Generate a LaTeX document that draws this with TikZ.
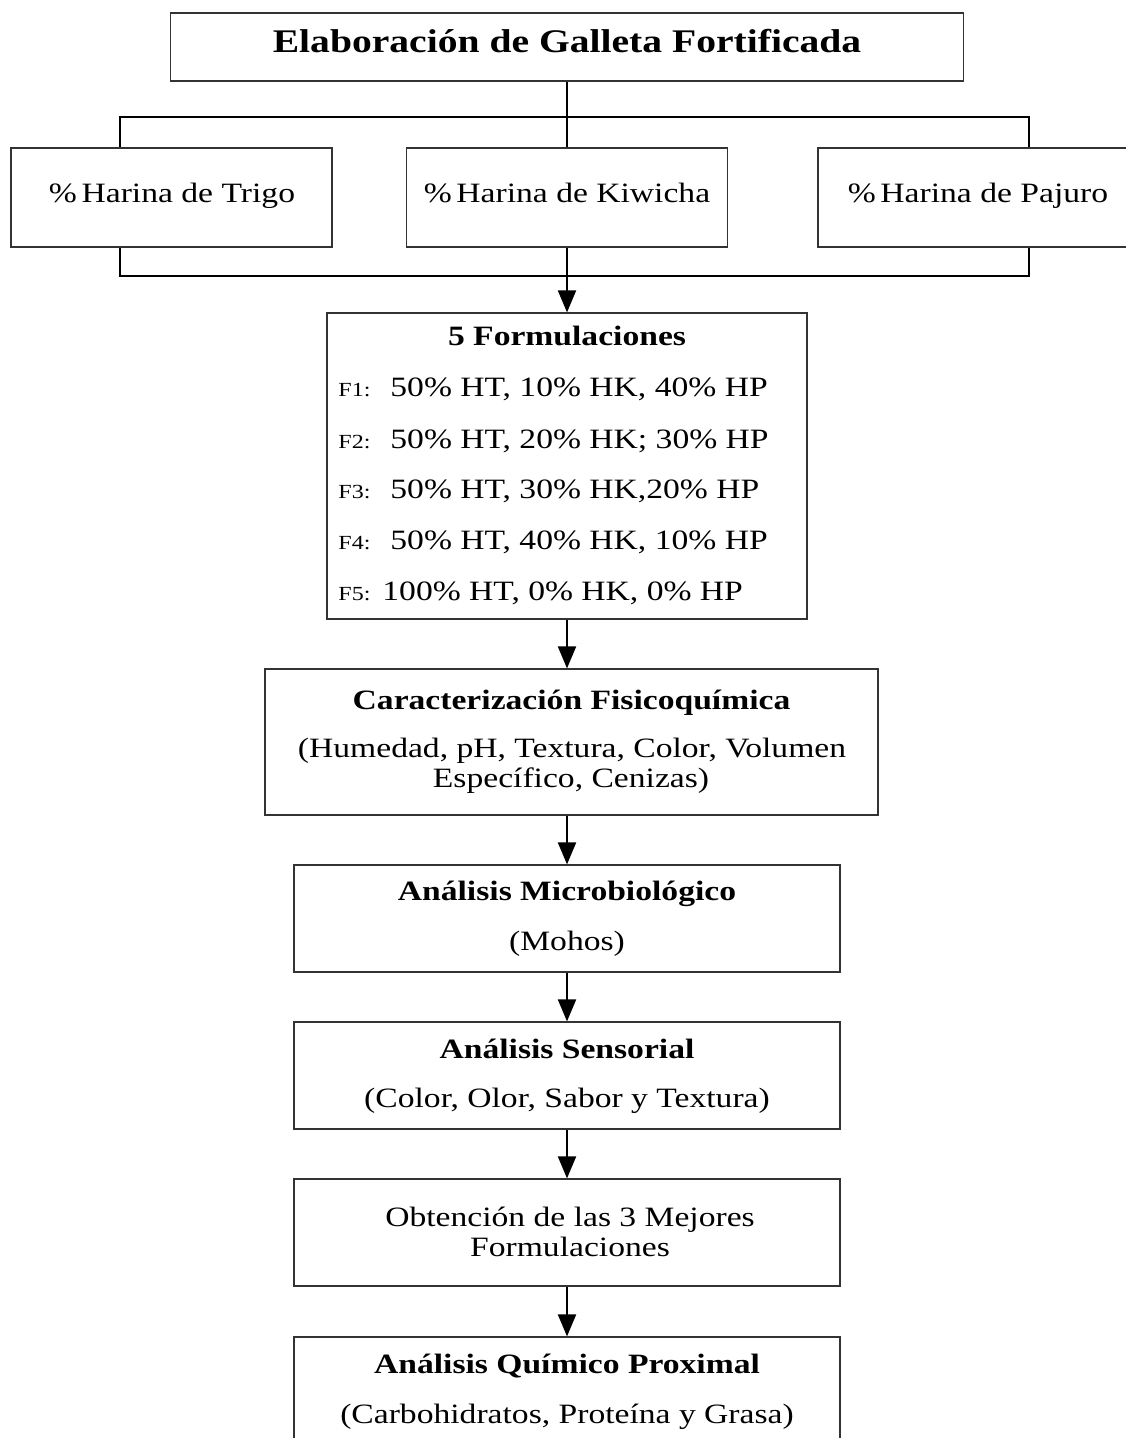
\documentclass[tikz,border=0pt]{standalone}
\usepackage{fontspec}
\setmainfont{Liberation Serif}[FakeStretch=1.2]
\usetikzlibrary{arrows.meta}
\begin{document}
\begin{tikzpicture}[x=0.5pt,y=-0.5pt,
  box/.style={draw=black!80, line width=0.6pt, inner sep=0pt, rectangle},
  conn/.style={line width=1pt, black},
  arr/.style={conn, -{Triangle[length=11pt,width=9pt]}},
  tx/.style={inner sep=0pt, anchor=base, font=\fontsize{14}{16}\selectfont},
  txb/.style={inner sep=0pt, anchor=base, font=\fontsize{14}{16}\selectfont\bfseries},
  fl/.style={inner sep=0pt, anchor=base west, font=\fontsize{14}{16}\selectfont},
]
\useasboundingbox (0,0) rectangle (1125,1438);
\fill[white] (0,0) rectangle (1125,1438);

% boxes
\node[box, minimum width=396.5pt, minimum height=34pt] (top) at (567,47) {};
\node[box, minimum width=160.5pt, minimum height=49.5pt] (trig) at (171.5,197.5) {};
\node[box, minimum width=160.5pt, minimum height=49.5pt] (kiw) at (567,197.5) {};
\node[box, minimum width=158.5pt, minimum height=49.5pt] (paj) at (976.5,197.5) {};
\node[box, minimum width=240pt, minimum height=153pt] (form) at (567,466) {};
\node[box, minimum width=306.5pt, minimum height=73pt] (car) at (571.5,742) {};
\node[box, minimum width=273pt, minimum height=53.5pt] (mic) at (567,918.5) {};
\node[box, minimum width=273pt, minimum height=53.5pt] (sen) at (567,1075.5) {};
\node[box, minimum width=273pt, minimum height=53.5pt] (obt) at (567,1232.5) {};
\node[box, minimum width=273pt, minimum height=56.5pt] (pro) at (567,1393.5) {};

% texts
\node[inner sep=0pt, anchor=base, font=\fontsize{16.5}{18}\selectfont\bfseries] (ttop) at (567,53) {Elaboración de Galleta Fortificada};
\node[tx] (ttrig) at (172,203) {\%\,Harina de Trigo};
\node[tx] (tkiw) at (567,203) {\%\,Harina de Kiwicha};
\node[tx] (tpaj) at (978,203) {\%\,Harina de Pajuro};

\node[txb] (tform) at (567,346) {5 Formulaciones};
\node[fl] (f1) at (338,397) {{\fontsize{10}{12}\selectfont F1:}\hspace{10pt}50\% HT, 10\% HK, 40\% HP};
\node[fl] (f2) at (338,448) {{\fontsize{10}{12}\selectfont F2:}\hspace{10pt}50\% HT, 20\% HK; 30\% HP};
\node[fl] (f3) at (338,498) {{\fontsize{10}{12}\selectfont F3:}\hspace{10pt}50\% HT, 30\% HK,20\% HP};
\node[fl] (f4) at (338,549) {{\fontsize{10}{12}\selectfont F4:}\hspace{10pt}50\% HT, 40\% HK, 10\% HP};
\node[fl] (f5) at (338,600) {{\fontsize{10}{12}\selectfont F5:}\hspace{6pt}100\% HT, 0\% HK, 0\% HP};

\node[txb] (tcar) at (571.5,709) {Caracterización Fisicoquímica};
\node[tx] (tcar1) at (572,757) {(Humedad, pH, Textura, Color, Volumen};
\node[tx] (tcar2) at (571,787) {Específico, Cenizas)};

\node[txb] (tmic) at (567,900) {Análisis Microbiológico};
\node[tx] (tmic1) at (567,950) {(Mohos)};

\node[txb] (tsen) at (567,1058) {Análisis Sensorial};
\node[tx] (tsen1) at (567,1107) {(Color, Olor, Sabor y Textura)};

\node[tx] (tobt1) at (570,1226) {Obtención de las 3 Mejores};
\node[tx] (tobt2) at (570,1256) {Formulaciones};

\node[txb] (tpro) at (567,1373) {Análisis Químico Proximal};
\node[tx] (tpro1) at (567,1423) {(Carbohidratos, Proteína y Grasa)};

% connectors
\coordinate (jl) at (120,117);
\coordinate (jr) at (1029,117);
\coordinate (bl) at (120,276);
\coordinate (br) at (1029,276);
\draw[conn] (top.south) -- (kiw.north);
\draw[conn] (jl |- trig.north) -- (jl) -- (jr) -- (jr |- paj.north);
\draw[conn] (bl |- trig.south) -- (bl) -- (br) -- (br |- paj.south);
\draw[arr] (kiw.south) -- (form.north);
\draw[arr] (form.south) -- (form.south |- car.north);
\draw[arr] (mic.north |- car.south) -- (mic.north);
\draw[arr] (mic.south) -- (sen.north);
\draw[arr] (sen.south) -- (obt.north);
\draw[arr] (obt.south) -- (pro.north);
\end{tikzpicture}
\end{document}
